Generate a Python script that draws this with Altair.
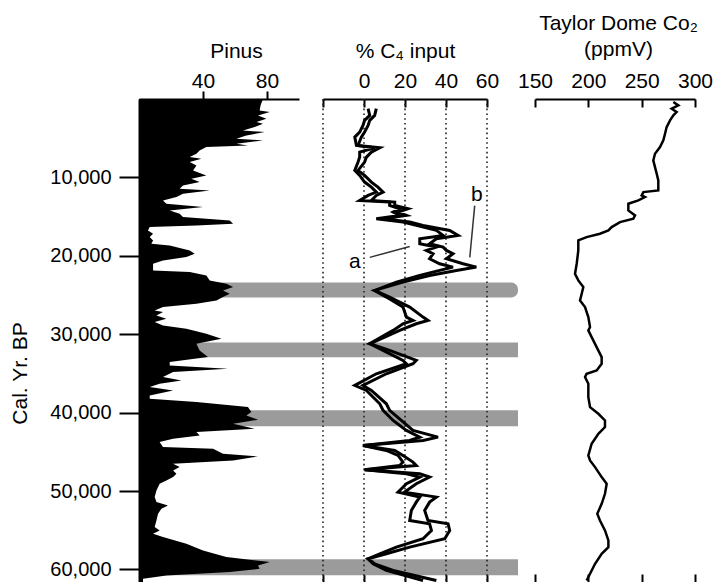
import altair as alt
import pandas as pd

FONT = "Liberation Sans"

# ---------------- data ----------------
pinus_year = [0, 800, 1454, 1667, 2092, 2517, 2942, 3155, 3580, 4005, 4218, 4643, 5068, 5281,
              5706, 5918, 6131, 6556, 6981, 7407, 7619, 8044, 8469, 9107, 9745, 10170, 10595,
              11020, 11445, 11658, 12083, 12508, 12934, 13359, 13784, 14209, 14634, 15060,
              15485, 15910, 16122, 16335, 16760, 17185, 17610, 18035, 18461, 18673, 19311,
              19736, 20161, 20587, 21012, 21862, 22075, 22500, 23138, 23563, 23988, 24413,
              24838, 25263, 25689, 26114, 26539, 26964, 27177, 27602, 28027, 28452, 28878,
              29303, 29940, 30578, 31216, 32066, 32917, 33555, 33980, 34405, 34830, 35468,
              35893, 36318, 36743, 37168, 37806, 38231, 38656, 39294, 39932, 40357, 40910,
              41420, 42058, 42483, 42908, 43333, 43758, 44396, 44608, 45246, 45586, 46097,
              46522, 46947, 47372, 47797, 48222, 48648, 49073, 49923, 50774, 51412, 51837,
              52262, 52900, 53750, 54601, 55026, 55451, 55876, 56726, 57577, 58427, 59065,
              59490, 59915, 60340, 60765, 61190, 61600]
pinus_pct = [77.5, 76.0, 75.4, 81.7, 74.4, 79.6, 73.4, 77.5, 72.3, 65.0, 78.6, 67.1, 60.9, 77.5,
             60.9, 68.1, 42.1, 37.9, 35.9, 31.7, 39.0, 31.7, 35.9, 33.8, 42.1, 32.7, 37.9,
             27.5, 25.4, 44.2, 27.5, 23.4, 15.0, 17.1, 40.0, 19.2, 25.4, 27.5,
             56.7, 58.8, 35.9, 6.7, 5.6, 8.8, 6.7, 8.8, 7.7, 19.2, 31.7,
             34.8, 29.6, 15.0, 8.8, 8.8, 31.7, 42.1, 44.2, 54.6, 58.8, 52.5,
             56.7, 52.5, 48.4, 35.9, 15.0, 9.8, 15.0, 10.9, 17.1, 9.8, 15.0,
             29.6, 42.1, 51.5, 35.9, 37.9, 43.1, 19.2, 19.2, 55.6, 21.3, 15.0,
             26.5, 12.9, 6.7, 21.3, 6.7, 6.7, 35.9, 68.1, 70.2, 67.1, 74.4,
             58.8, 72.3, 35.9, 37.9, 21.3, 12.9, 15.0, 46.3, 52.5, 74.4, 58.8,
             21.3, 25.4, 21.3, 23.4, 21.3, 17.1, 12.9, 10.9, 9.8, 10.9, 18.1,
             14.0, 11.9, 10.9, 9.8, 12.9, 8.8, 15.0, 29.6, 40.0, 54.6, 81.7,
             74.4, 75.4, 56.7, 17.1, 2.5, 2.5]

c4_year = [1240, 2092, 2730, 3367, 4218, 4856, 5918, 6216, 6769, 7407, 8044, 9107, 9745,
           10595, 11233, 11871, 12296, 12934, 13146, 13571, 13996, 14422, 14847, 15272,
           15697, 16122, 16760, 17398, 17823, 18461, 18886, 19311, 19736, 20374, 21012,
           21437, 21862, 22500, 23350, 24413, 25263, 26539, 27815, 28240, 28665, 29515,
           31216, 32066, 33342, 33767, 35042, 36531, 37168, 38869, 39719, 40995, 42270,
           43121, 43546, 44183, 44821, 45459, 46310, 46735, 47286, 47797, 48222, 49073,
           50136, 50774, 51412, 52474, 53750, 54175, 55026, 56088, 57151, 58001, 58639,
           59277, 60127, 61403]
c4_a = [2.0, 2.8, 0.3, -0.5, -2.1, -4.5, -3.7, 5.2, -2.1, -2.1, -2.9, -4.5, -2.1,
        0.3, 3.6, 6.0, 2.0, -2.1, 12.5, 12.5, 17.4, 14.2, 17.4, 6.0,
        19.0, 25.5, 35.3, 38.6, 27.2, 27.2, 35.3, 30.4, 33.7, 32.0, 36.9,
        43.4, 36.9, 27.2, 15.8, 5.2, 10.9, 19.0, 20.7, 23.9, 19.0, 14.2,
        2.8, 9.3, 19.0, 20.7, 6.0, -4.5, 1.2, 7.7, 9.3, 14.2, 20.7,
        27.2, 22.3, -0.5, 10.9, 16.6, 19.0, 17.4, 0.3, 20.7, 27.2, 20.7,
        16.6, 27.2, 25.5, 23.1, 22.3, 32.0, 32.9, 28.8, 15.8, 7.7, 2.0,
        4.4, 10.9, 28.8]
c4_b = [6.0, 5.2, 2.8, 2.0, 0.3, -1.3, -2.9, 7.7, 3.6, 1.2, 0.3, -2.9, 0.3,
        3.6, 6.8, 9.3, 6.0, 3.6, 15.0, 15.0, 21.5, 16.6, 20.7, 9.3,
        22.3, 28.8, 41.8, 45.9, 35.3, 32.0, 38.6, 40.2, 43.4, 40.2, 48.3,
        54.8, 45.1, 32.0, 19.0, 5.2, 12.5, 22.3, 28.8, 31.2, 25.5, 17.4,
        2.8, 12.5, 25.5, 23.9, 10.9, -0.5, 3.6, 10.9, 12.5, 18.2, 23.9,
        36.1, 28.8, -0.5, 15.0, 19.0, 23.9, 25.5, 0.3, 27.2, 32.0, 25.5,
        19.8, 35.3, 32.0, 29.6, 31.2, 41.0, 41.8, 39.4, 22.3, 10.9, 2.0,
        5.2, 14.2, 35.3]

co2_year = [391, 816, 1241, 1667, 2092, 2730, 3580, 4430, 5281, 6131, 6981, 7832, 8682,
            9532, 10383, 11233, 11658, 11871, 12296, 12508, 12934, 13359, 14209, 14847,
            15272, 15697, 16335, 16760, 17185, 17610, 18035, 19311, 21012, 22287, 23138,
            23988, 24838, 25689, 26539, 27815, 29090, 29515, 30365, 31641, 32917, 33767,
            34617, 35042, 35468, 36318, 37168, 38018, 39294, 40144, 40995, 41845, 42695,
            43970, 45459, 46097, 46947, 48222, 49073, 50348, 51624, 52900, 53750, 55026,
            56301, 57151, 58001, 59277, 60552, 61403]
co2_ppm = [279.7, 284.4, 278.1, 282.8, 279.7, 276.6, 273.4, 271.9, 270.3, 267.2, 262.5, 260.9, 262.5,
           264.1, 265.6, 265.6, 265.6, 251.6, 250.0, 253.1, 246.9, 237.5, 237.5, 243.8,
           242.2, 229.7, 221.9, 218.8, 210.9, 198.4, 190.6, 190.6, 189.1, 187.5, 190.6,
           195.3, 193.8, 192.2, 196.9, 200.0, 201.6, 200.0, 203.1, 207.8, 212.5, 212.5,
           207.8, 198.4, 196.9, 200.0, 200.0, 200.0, 201.6, 209.4, 215.6, 215.6, 209.4,
           203.1, 200.0, 201.6, 206.3, 212.5, 217.2, 215.6, 212.5, 208.4, 210.9, 215.6,
           218.8, 218.8, 212.5, 206.3, 201.6, 198.4]

band_top = [23400, 31050, 39700, 58700]
band_bottom = [25300, 32950, 41750, 60750]

age_ticks = [10000, 20000, 30000, 40000, 50000, 60000]
pinus_ticks = [40, 80]
c4_ticks = [-20, 0, 20, 40, 60]
co2_ticks = [150, 200, 250, 300]

label_text = ["a", "b"]
label_year = [20800, 12300]
label_c4 = [-4.5, 55.0]
leader_year_start = [20200, 13600]
leader_c4_start = [2.8, 54.0]
leader_year_end = [18800, 20200]
leader_c4_end = [22.3, 51.6]

# ---------------- tables ----------------
pinus_df = pd.DataFrame({"year": pinus_year, "pct": pinus_pct})
n = len(c4_year)
c4_df = pd.DataFrame({"year": c4_year + c4_year, "val": c4_a + c4_b,
                      "series": ["a"] * n + ["b"] * n})
co2_df = pd.DataFrame({"year": co2_year, "ppm": co2_ppm})
band_df = pd.DataFrame({"top": band_top, "bottom": band_bottom, "idx": list(range(len(band_top)))})
label_df = pd.DataFrame({"text": label_text, "year": label_year, "val": label_c4})
leader_df = pd.DataFrame({"y1": leader_year_start, "x1": leader_c4_start,
                          "y2": leader_year_end, "x2": leader_c4_end})
age_df = pd.DataFrame({"t": age_ticks})

# ---------------- scales ----------------
y_scale = alt.Scale(domain=[0, 61600], reverse=True, nice=False, zero=False)
pinus_scale = alt.Scale(domain=[0, 100], range=[0, 160], nice=False)
c4_scale = alt.Scale(domain=[-20, 60], range=[184, 348], nice=False, zero=False)
co2_scale = alt.Scale(domain=[150, 300], range=[396, 556], nice=False, zero=False)

INWARD = alt.ExprRef(expr="-8")

y_noaxis = alt.Y("year:Q", scale=y_scale, axis=None)

# age axis (left) carried by an invisible layer
age_axis = alt.Chart(age_df).mark_rule(opacity=0).encode(
    y=alt.Y("t:Q", scale=y_scale,
            axis=alt.Axis(orient="left", values=age_ticks, format=",.0f", tickSize=20,
                          labelPadding=8, labelFontSize=20, title="Cal. Yr. BP",
                          titleX=-118.5, titleY=274, titleBaseline="middle",
                          titleAlign="center", labelFlush=False, labelOverlap=False)))

# ---------------- Pinus panel ----------------
bands_rest = alt.Chart(band_df).transform_filter("datum.idx > 0").mark_rect(color="#9b9b9b").encode(
    y=alt.Y("top:Q", scale=y_scale, axis=None), y2="bottom:Q",
    x=alt.value(0), x2=alt.value(379))
band_first = alt.Chart(band_df).transform_filter("datum.idx == 0").mark_rect(
    color="#9b9b9b", cornerRadius=7).encode(
    y=alt.Y("top:Q", scale=y_scale, axis=None), y2="bottom:Q",
    x=alt.value(0), x2=alt.value(379))

pinus_area = alt.Chart(pinus_df).mark_area(orient="horizontal", color="black").encode(
    y=y_noaxis,
    x=alt.X("pct:Q", scale=pinus_scale, stack=None,
            axis=alt.Axis(orient="top", values=pinus_ticks, tickSize=8, labelPadding=3.5,
                          labelBaseline="alphabetic", title="Pinus", titleX=97, titleY=-41.5,
                          titleBaseline="alphabetic", labelFlush=False, labelOverlap=False)),
)
pinus_sub = alt.layer(bands_rest, band_first, pinus_area)

# ---------------- C4 panel ----------------
grid = alt.Chart(pd.DataFrame({"v": c4_ticks})).mark_rule(
    color="#222222", strokeWidth=1.6, strokeDash=[1.6, 3.2]).encode(
    x=alt.X("v:Q", scale=c4_scale,
            axis=alt.Axis(orient="bottom", values=c4_ticks, labels=False, domain=False,
                          tickSize=INWARD, title=None)))

c4_lines = alt.Chart(c4_df).mark_line(color="black", strokeWidth=3).encode(
    x=alt.X("val:Q", scale=c4_scale,
            axis=alt.Axis(orient="top", values=c4_ticks, tickSize=INWARD, labelPadding=19.5,
                          labelBaseline="alphabetic",
                          labelExpr="datum.value < 0 ? '' : datum.label",
                          title="% C\u2084 input", titleY=-41.5, titleBaseline="alphabetic",
                          labelFlush=False, labelOverlap=False)),
    y=y_noaxis,
    detail="series:N",
    order="year:Q",
)

leaders = alt.Chart(leader_df).mark_rule(color="#333333", strokeWidth=1.5).encode(
    x=alt.X("x1:Q", scale=c4_scale, axis=None), x2="x2:Q",
    y=alt.Y("y1:Q", scale=y_scale, axis=None), y2="y2:Q")

labels = alt.Chart(label_df).mark_text(font=FONT, fontSize=21, color="black",
                                       align="center", baseline="middle").encode(
    x=alt.X("val:Q", scale=c4_scale, axis=None),
    y=y_noaxis,
    text="text:N")

c4_sub = alt.layer(grid, c4_lines, leaders, labels).resolve_axis(x="independent")

# ---------------- CO2 panel ----------------
co2_bottom = alt.Chart(pd.DataFrame({"v": co2_ticks})).mark_rule(opacity=0).encode(
    x=alt.X("v:Q", scale=co2_scale,
            axis=alt.Axis(orient="bottom", values=co2_ticks, labels=False, domain=False,
                          tickSize=INWARD, title=None)))

co2_line = alt.Chart(co2_df).mark_line(color="black", strokeWidth=2.5).encode(
    x=alt.X("ppm:Q", scale=co2_scale,
            axis=alt.Axis(orient="top", values=co2_ticks, tickSize=INWARD, labelPadding=19.5,
                          labelBaseline="alphabetic",
                          title=["Taylor Dome Co\u2082", "(ppmV)"], titleX=479, titleY=-69.5,
                          titleBaseline="alphabetic", titleLineHeight=26,
                          labelFlush=False, labelOverlap=False)),
    y=y_noaxis,
    order="year:Q",
)

co2_sub = alt.layer(co2_bottom, co2_line).resolve_axis(x="independent")

chart = alt.layer(age_axis, pinus_sub, c4_sub, co2_sub).resolve_scale(x="independent").resolve_axis(
    x="independent", y="independent").properties(
    width=556, height=483,
    padding={"left": 139, "top": 99, "right": 19, "bottom": 0},
    autosize=alt.AutoSizeParams(type="none"),
    background="white",
).configure_view(stroke=None).configure_axis(
    labelFont=FONT, titleFont=FONT, labelFontSize=21, titleFontSize=21,
    titleFontWeight="normal", labelColor="black", titleColor="black",
    domainColor="black", tickColor="black", domainWidth=2, tickWidth=2, grid=False,
)

chart.save("out.html", embed_options={"renderer": "svg", "actions": False})
